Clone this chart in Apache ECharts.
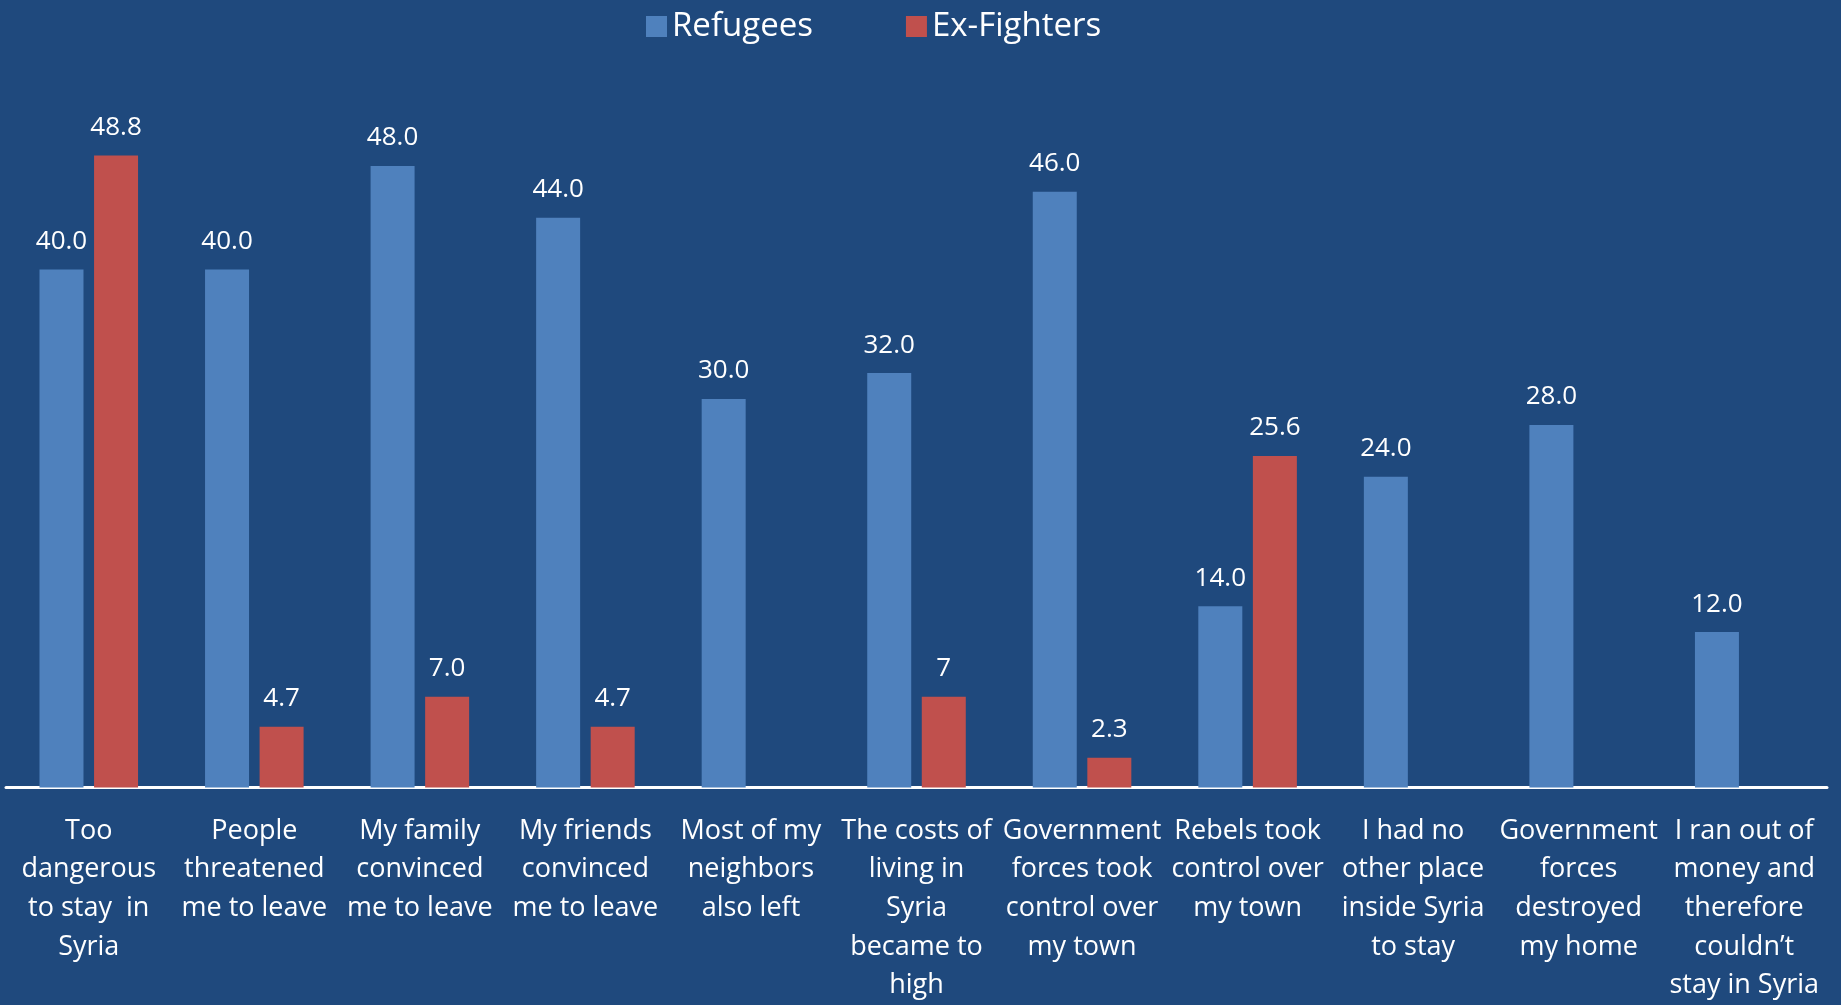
<!DOCTYPE html>
<html>
<head>
<meta charset="utf-8">
<script src="https://cdn.jsdelivr.net/npm/echarts@6/dist/echarts.min.js"></script>
<style>
html,body{margin:0;padding:0;background:#1F497D;}
#c{width:1841px;height:1005px;}
</style>
</head>
<body>
<div id="c"></div>
<script>
var categories = [
  "Too\ndangerous\nto stay  in\nSyria",
  "People\nthreatened\nme to leave",
  "My family\nconvinced\nme to leave",
  "My friends\nconvinced\nme to leave",
  "Most of my\nneighbors\nalso left",
  "The costs of\nliving in\nSyria\nbecame to\nhigh",
  "Government\nforces took\ncontrol over\nmy town",
  "Rebels took\ncontrol over\nmy town",
  "I had no\nother place\ninside Syria\nto stay",
  "Government\nforces\ndestroyed\nmy home",
  "I ran out of\nmoney and\ntherefore\ncouldn\u2019t\nstay in Syria"
];
var refugees = [40, 40, 48, 44, 30, 32, 46, 14, 24, 28, 12];
var refugeeLabels = ["40.0","40.0","48.0","44.0","30.0","32.0","46.0","14.0","24.0","28.0","12.0"];
var exFighters = [48.8, 4.7, 7.0, 4.7, null, 7, 2.3, 25.6, null, null, null];
var exFighterLabels = ["48.8","4.7","7.0","4.7","","7","2.3","25.6","","",""];

var FONT = "Open Sans";
var chart = echarts.init(document.getElementById('c'));
chart.setOption({
  backgroundColor: '#1F497D',
  animation: false,
  legend: {
    left: 641, top: 5,
    itemWidth: 21, itemHeight: 21, itemGap: 93,
    icon: 'rect',
    textStyle: {color: '#fff', fontSize: 33, fontFamily: FONT},
    data: ['Refugees', 'Ex-Fighters']
  },
  grid: {left: 6, right: 14, top: 140, bottom: 213},
  xAxis: {
    type: 'category',
    data: categories,
    axisLine: {lineStyle: {color: '#fff', width: 3}},
    axisTick: {show: false},
    axisLabel: {
      interval: 0, color: '#fff', fontSize: 27, fontFamily: FONT,
      lineHeight: 38.7, margin: 24, align: 'center'
    }
  },
  yAxis: {
    type: 'value', min: 0, max: 50,
    show: false, splitLine: {show: false}
  },
  series: [
    {
      name: 'Refugees', type: 'bar', data: refugees,
      barWidth: 44, barGap: '24%',
      itemStyle: {color: '#4F81BD'},
      label: {
        show: true, position: 'top', distance: 15, color: '#fff',
        fontSize: 26, fontFamily: FONT,
        formatter: function (p) { return refugeeLabels[p.dataIndex]; }
      }
    },
    {
      name: 'Ex-Fighters', type: 'bar', data: exFighters,
      barWidth: 44,
      itemStyle: {color: '#C0504D'},
      label: {
        show: true, position: 'top', distance: 15, color: '#fff',
        fontSize: 26, fontFamily: FONT,
        formatter: function (p) { return exFighterLabels[p.dataIndex]; }
      }
    }
  ]
});
</script>
</body>
</html>
